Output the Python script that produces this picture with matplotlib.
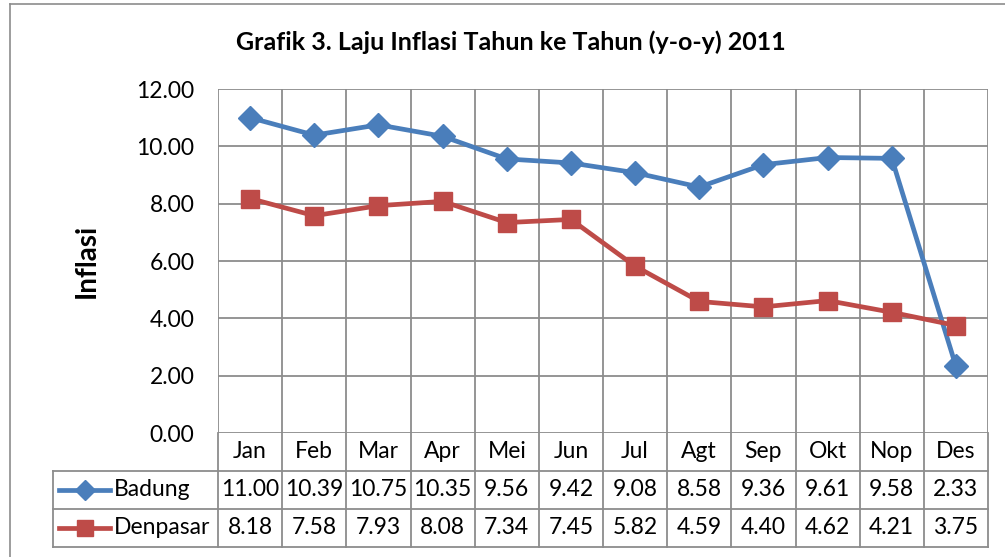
import numpy as np
import matplotlib.pyplot as plt
from matplotlib.lines import Line2D

plt.rcParams['font.family'] = ['Lato', 'DejaVu Sans']

months = ['Jan', 'Feb', 'Mar', 'Apr', 'Mei', 'Jun', 'Jul', 'Agt', 'Sep', 'Okt', 'Nop', 'Des']
badung = [11.00, 10.39, 10.75, 10.35, 9.56, 9.42, 9.08, 8.58, 9.36, 9.61, 9.58, 2.33]
denpasar = [8.18, 7.58, 7.93, 8.08, 7.34, 7.45, 5.82, 4.59, 4.40, 4.62, 4.21, 3.75]
series_names = ['Badung', 'Denpasar']
yticks = [0, 2, 4, 6, 8, 10, 12]

blue = '#4a7ebb'
red = '#be4b48'
grid = '#8c8c8c'

W, H = 1005, 557
fig = plt.figure(figsize=(W / 100, H / 100), dpi=100)

def fx(px):
    return px / W

def fy(py):
    return 1 - py / H

# outer chart frame
fig.add_artist(Line2D([fx(10), fx(10)], [fy(4), fy(557)], color=grid, lw=1.2))
fig.add_artist(Line2D([fx(10), fx(1005)], [fy(4), fy(4)], color=grid, lw=1.2))

x0, x1 = 218, 988
ax = fig.add_axes([fx(x0), fy(433), fx(x1 - x0), (433 - 89) / H])
x = np.arange(len(months))
ax.plot(x, badung, color=blue, lw=3.4, marker='D', ms=12, zorder=3)
ax.plot(x, denpasar, color=red, lw=3.4, marker='s', ms=13, zorder=3)
ax.set_xlim(-0.5, len(months) - 0.5)
ax.set_ylim(0, 12)
ax.set_yticks(yticks)
ax.set_yticklabels([f'{v:.2f}' for v in yticks], fontsize=16.5)
ax.set_xticks([])
for v in yticks:
    ax.axhline(v, color=grid, lw=1.3, zorder=1)
for b in np.arange(-0.5, len(months), 1):
    ax.axvline(b, color=grid, lw=1.3, zorder=1)
for s in ax.spines.values():
    s.set_visible(False)
ax.tick_params(axis='y', length=0, pad=17)
ax.set_ylabel('Inflasi', fontsize=20, fontweight='bold', labelpad=26)

fig.text(fx(511), fy(42), 'Grafik 3. Laju Inflasi Tahun ke Tahun (y-o-y) 2011',
         ha='center', va='center', fontsize=18, fontweight='bold')

# data table below the plot
tab = fig.add_axes([fx(x0), fy(547), fx(x1 - x0), (547 - 433) / H])
tab.set_xlim(-0.5, len(months) - 0.5)
tab.set_ylim(0, 3)
tab.axis('off')

unit = (x1 - x0) / len(months)
def dx(px):
    return -0.5 - (x0 - px) / unit

left = dx(53)
for b in np.arange(-0.5, len(months), 1):
    tab.plot([b, b], [0, 3], color=grid, lw=1.3, clip_on=False)
for yv in [0, 1, 2]:
    tab.plot([left, len(months) - 0.5], [yv, yv], color=grid, lw=1.3, clip_on=False)
tab.plot([left, left], [0, 2], color=grid, lw=1.3, clip_on=False)
for i, m in enumerate(months):
    tab.text(i, 2.5, m, ha='center', va='center', fontsize=16.5)
    tab.text(i, 1.5, f'{badung[i]:.2f}', ha='center', va='center', fontsize=16.5)
    tab.text(i, 0.5, f'{denpasar[i]:.2f}', ha='center', va='center', fontsize=16.5)

for yv, name, col, mk, ms in [(1.5, series_names[0], blue, 'D', 10), (0.5, series_names[1], red, 's', 11)]:
    tab.plot([dx(59), dx(110)], [yv, yv], color=col, lw=3.4, clip_on=False)
    tab.plot([dx(85)], [yv], color=col, marker=mk, ms=ms, clip_on=False)
    tab.text(dx(114), yv, name, ha='left', va='center', fontsize=16.5)

fig.savefig('out.png', dpi=100)
